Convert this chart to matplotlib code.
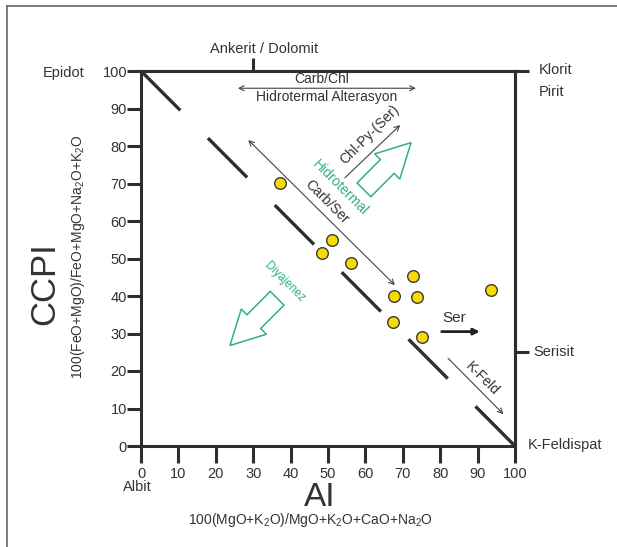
import matplotlib
matplotlib.use("Agg")
import matplotlib.pyplot as plt
from matplotlib.lines import Line2D
from matplotlib.patches import FancyArrow

plt.rcParams['font.family'] = ['Liberation Sans', 'DejaVu Sans']
plt.rcParams['mathtext.fontset'] = 'custom'
plt.rcParams['mathtext.rm'] = 'Liberation Sans'
plt.rcParams['mathtext.it'] = 'Liberation Sans'
plt.rcParams['lines.scale_dashes'] = False

# ---- data ----
ai_values = [37.2, 48.3, 51.2, 56.1, 72.6, 67.6, 73.7, 67.5, 75.0, 93.5]
ccpi_values = [70.1, 51.5, 54.9, 48.7, 45.4, 40.0, 39.8, 33.1, 29.2, 41.6]
x_ticks = [0, 10, 20, 30, 40, 50, 60, 70, 80, 90, 100]
y_ticks = [0, 10, 20, 30, 40, 50, 60, 70, 80, 90, 100]
diag_x = [0, 100]
diag_y = [100, 0]

AXC = '#2e2e2e'
TXC = '#333333'
GREEN = '#30b27c'

fig = plt.figure(figsize=(6.17, 5.47), dpi=100)
ax = fig.add_axes([141/617, 1-446/547, 374/617, 375/547])
ax.set_xlim(0, 100)
ax.set_ylim(0, 100)

for s in ax.spines.values():
    s.set_linewidth(2.2)
    s.set_color(AXC)

ax.set_xticks(x_ticks)
ax.set_yticks(y_ticks)
ax.tick_params(axis='x', direction='out', length=12, width=2.2, color=AXC,
               labelsize=10.5, labelcolor=TXC, pad=3)
ax.tick_params(axis='y', direction='out', length=10, width=2.2, color=AXC,
               labelsize=10.5, labelcolor=TXC, pad=0)

secx = ax.secondary_xaxis('top')
secx.set_xticks([30])
secx.set_xticklabels([''])
secx.tick_params(direction='out', length=9.5, width=2.2, color=AXC)
secx.spines['top'].set_linewidth(2.2)
secx.spines['top'].set_color(AXC)

secy = ax.secondary_yaxis('right')
secy.set_yticks([25, 100])
secy.set_yticklabels(['', ''])
secy.tick_params(direction='out', length=10, width=2.2, color=AXC)
secy.spines['right'].set_linewidth(2.2)
secy.spines['right'].set_color(AXC)

# dashed diagonal
ax.plot(diag_x, diag_y, color=AXC, lw=2.4, dashes=(40, 28.2),
        solid_capstyle='butt', dash_capstyle='butt', zorder=2)

# points
ax.scatter(ai_values, ccpi_values, s=70, facecolor='#f7dc00',
           edgecolor='#3a3a3a', linewidth=1.0, zorder=5)

# thin arrows
thin = dict(arrowstyle='<->', color='#444444', lw=0.8, shrinkA=0, shrinkB=0,
            mutation_scale=9)
ax.annotate('', xy=(73.5, 95.4), xytext=(25.9, 95.4), arrowprops=thin)
ax.annotate('', xy=(67.9, 42.9), xytext=(28.7, 81.6), arrowprops=thin)
one = dict(arrowstyle='->', color='#444444', lw=0.8, shrinkA=0, shrinkB=0,
           mutation_scale=9)
ax.annotate('', xy=(69.3, 85.6), xytext=(54.5, 71.5), arrowprops=one)
ax.annotate('', xy=(96.9, 8.5), xytext=(82.1, 23.4), arrowprops=one)
ax.annotate('', xy=(90.6, 30.5), xytext=(80.4, 30.5),
            arrowprops=dict(arrowstyle='-|>', color='#222222', lw=2.0,
                            shrinkA=0, shrinkB=0, mutation_scale=9))

# green block arrows
for (x0, y0, dx, dy) in [(59.6, 68.3, 12.6, 12.6), (36.4, 39.4, -12.6, -12.6)]:
    ax.add_patch(FancyArrow(x0, y0, dx, dy, width=5.2, head_width=9.5,
                            head_length=9, length_includes_head=True,
                            fill=False, ec=GREEN, lw=1.1, zorder=3))

# inner texts
ax.text(48.4, 97.9, 'Carb/Chl', fontsize=10, color=TXC, ha='center', va='center')
ax.text(49.5, 93.1, 'Hidrotermal Alterasyon', fontsize=10, color=TXC,
        ha='center', va='center')
ax.text(49.6, 65.1, 'Carb/Ser', fontsize=10, color=TXC, ha='center', va='center',
        rotation=-45, rotation_mode='anchor')
ax.text(53.4, 68.9, 'Hidrotermal', fontsize=10, color=GREEN, ha='center',
        va='center', rotation=-45, rotation_mode='anchor')
ax.text(61.2, 82.9, 'Chl-Py-(Ser)', fontsize=10, color=TXC, ha='center',
        va='center', rotation=45, rotation_mode='anchor')
ax.text(38.5, 43.6, 'Diyajenez', fontsize=8.5, color=GREEN, ha='center',
        va='center', rotation=-45, rotation_mode='anchor')
ax.text(83.8, 34.0, 'Ser', fontsize=11, color=TXC, ha='center', va='center')
ax.text(91.3, 17.9, 'K-Feld', fontsize=10, color=TXC, ha='center', va='center',
        rotation=-45, rotation_mode='anchor')

# outer labels
ax.text(-15, 99.5, 'Epidot', fontsize=10.5, color=TXC, ha='right', va='center')
ax.text(32.9, 105.9, 'Ankerit / Dolomit', fontsize=10.5, color=TXC,
        ha='center', va='center')
ax.text(106.4, 100.3, 'Klorit', fontsize=10.5, color=TXC, ha='left', va='center')
ax.text(106.4, 94.4, 'Pirit', fontsize=10.5, color=TXC, ha='left', va='center')
ax.text(104.8, 25.1, 'Serisit', fontsize=10.5, color=TXC, ha='left', va='center')
ax.text(103.5, 0.3, 'K-Feldispat', fontsize=10.5, color=TXC, ha='left', va='center')

fig.text(137/617, 1-487/547, 'Albit', fontsize=10.5, color=TXC,
         ha='center', va='center')
fig.text(320/617, 1-506/547, 'AI', fontsize=24, color=TXC, ha='center',
         va='baseline')
fig.text(311/617, 1-520/547, r'100(MgO+K$_2$O)/MgO+K$_2$O+CaO+Na$_2$O',
         fontsize=10, color=TXC, ha='center', va='center')
fig.text(45/617, 1-284/547, 'CCPI', fontsize=25, color=TXC, ha='center',
         va='center', rotation=90)
fig.text(78/617, 1-257/547, r'100(FeO+MgO)/FeO+MgO+Na$_2$O+K$_2$O',
         fontsize=10, color=TXC, ha='center', va='center', rotation=90)

# frame
fig.add_artist(Line2D([7/617, 1], [1-6/547, 1-6/547], transform=fig.transFigure,
                      color='#666666', lw=1.2))
fig.add_artist(Line2D([7/617, 7/617], [1-6/547, 0], transform=fig.transFigure,
                      color='#666666', lw=1.2))

fig.savefig('out.png', dpi=100)
